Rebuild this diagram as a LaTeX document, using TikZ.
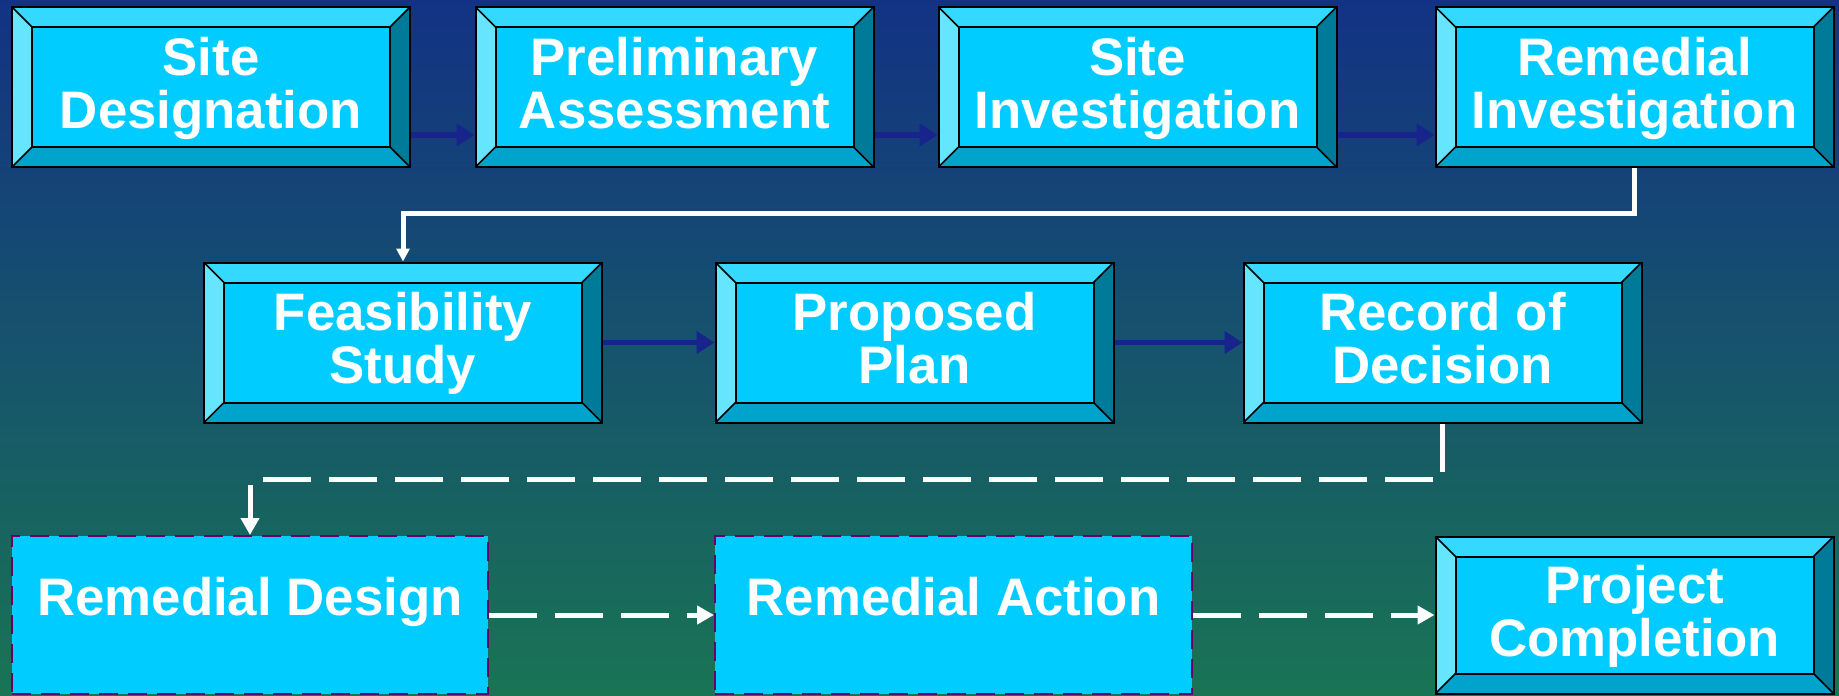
\documentclass[tikz,border=0pt]{standalone}
\usepackage{fontspec}
\setmainfont{Liberation Sans}
\usetikzlibrary{arrows.meta,calc}

\definecolor{bgtop}{RGB}{19,50,132}
\definecolor{bgmid}{RGB}{22,88,112}
\definecolor{bgbot}{RGB}{25,116,84}
\definecolor{face}{RGB}{0,204,255}
\definecolor{bvtop}{RGB}{51,217,255}
\definecolor{bvleft}{RGB}{102,229,255}
\definecolor{bvright}{RGB}{0,122,153}
\definecolor{bvbot}{RGB}{0,163,204}
\definecolor{navy}{RGB}{22,36,140}
\definecolor{rim}{RGB}{102,0,102}

\begin{document}
\begin{tikzpicture}[x=0.5pt,y=-0.5pt,
  boxfont/.style={text=white, font=\bfseries\fontsize{26.4}{26.5}\selectfont, align=center},
  bevelbox/.style={rectangle, draw=black, line width=1pt, fill=face,
    minimum width=199pt, minimum height=80pt, inner sep=0pt, boxfont,
    % fixed text box: last baseline sits 20.65pt below the centre
    text height=47.3pt, text depth=6pt,
    path picture={
      \path (path picture bounding box.north west) coordinate (pNW)
            (path picture bounding box.north east) coordinate (pNE)
            (path picture bounding box.south west) coordinate (pSW)
            (path picture bounding box.south east) coordinate (pSE);
      \path ($(pNW)+(10pt,-10pt)$) coordinate (qNW)
            ($(pNE)+(-10pt,-10pt)$) coordinate (qNE)
            ($(pSW)+(10pt,10pt)$) coordinate (qSW)
            ($(pSE)+(-10pt,10pt)$) coordinate (qSE);
      \fill[bvtop] (pNW) -- (pNE) -- (qNE) -- (qNW) -- cycle;
      \fill[bvbot] (pSW) -- (pSE) -- (qSE) -- (qSW) -- cycle;
      \fill[bvleft] (pNW) -- (qNW) -- (qSW) -- (pSW) -- cycle;
      \fill[bvright] (pNE) -- (qNE) -- (qSE) -- (pSE) -- cycle;
      \draw[black, line width=1pt] (qNW) rectangle (qSE);
      \draw[black, line width=0.8pt] (pNW) -- (qNW) (pNE) -- (qNE)
            (pSW) -- (qSW) (pSE) -- (qSE);
    }},
  dashbox/.style={rectangle, draw=rim, line width=1pt, fill=face,
    dash pattern=on 9.5pt off 5pt, minimum height=79pt, inner sep=0pt},
  navyarrow/.style={draw=navy, line width=2.8pt,
    -{Triangle[length=9pt,width=11pt]}},
  whitearrow/.style={draw=white, line width=2.5pt,
    -{Triangle[length=6.5pt,width=6.5pt]}},
  whitedash/.style={draw=white, line width=2.5pt, dash pattern=on 24pt off 9pt,
    -{Triangle[length=8.5pt,width=9pt]}}
]
  % backdrop
  \clip (0,0) rectangle (1839,695);
  \shade[top color=bgtop, middle color=bgmid, bottom color=bgbot]
    (0,0) rectangle (1839,695);

  % first row
  \node[bevelbox] (sd)  at (211,87)    {Site\\Designation};
  \node[bevelbox] (pa)  at (674.5,87)  {Preliminary\\Assessment};
  \node[bevelbox] (si)  at (1137.5,87) {Site\\Investigation};
  \node[bevelbox] (ri)  at (1634.5,87) {Remedial\\Investigation};

  % second row
  \node[bevelbox] (fs)  at (403,342.5)    {Feasibility\\Study};
  \node[bevelbox] (pp)  at (914.5,342.5)  {Proposed\\Plan};
  \node[bevelbox] (rod) at (1442.5,342.5) {Record of\\Decision};

  % third row
  \node[dashbox, minimum width=238pt]   (rd) at (250,615) {};
  \node[boxfont, anchor=base, inner sep=0pt] at (rd.center) {Remedial Design};
  \node[dashbox, minimum width=238.5pt] (ra) at (953.5,615) {};
  \node[boxfont, anchor=base, inner sep=0pt] at (ra.center) {Remedial Action};
  \node[bevelbox, minimum height=78.5pt] (pc) at (1634.5,615) {Project\\Completion};

  % connectors
  \draw[navyarrow] ([yshift=-24pt]sd.east) -- ([yshift=-24pt]pa.west);
  \draw[navyarrow] ([yshift=-24pt]pa.east) -- ([yshift=-24pt]si.west);
  \draw[navyarrow] ([yshift=-24pt]si.east) -- ([yshift=-24pt]ri.west);
  \draw[whitearrow] (ri.south) -- ++(0,46) -| (fs.north);
  \draw[navyarrow] (fs.east) -- (pp.west);
  \draw[navyarrow] (pp.east) -- (rod.west);
  \draw[whitedash] (rod.south) -- ++(0,56) -| (rd.north);
  \draw[whitedash] (rd.east) -- (ra.west);
  \draw[whitedash] (ra.east) -- (pc.west);
\end{tikzpicture}
\end{document}
